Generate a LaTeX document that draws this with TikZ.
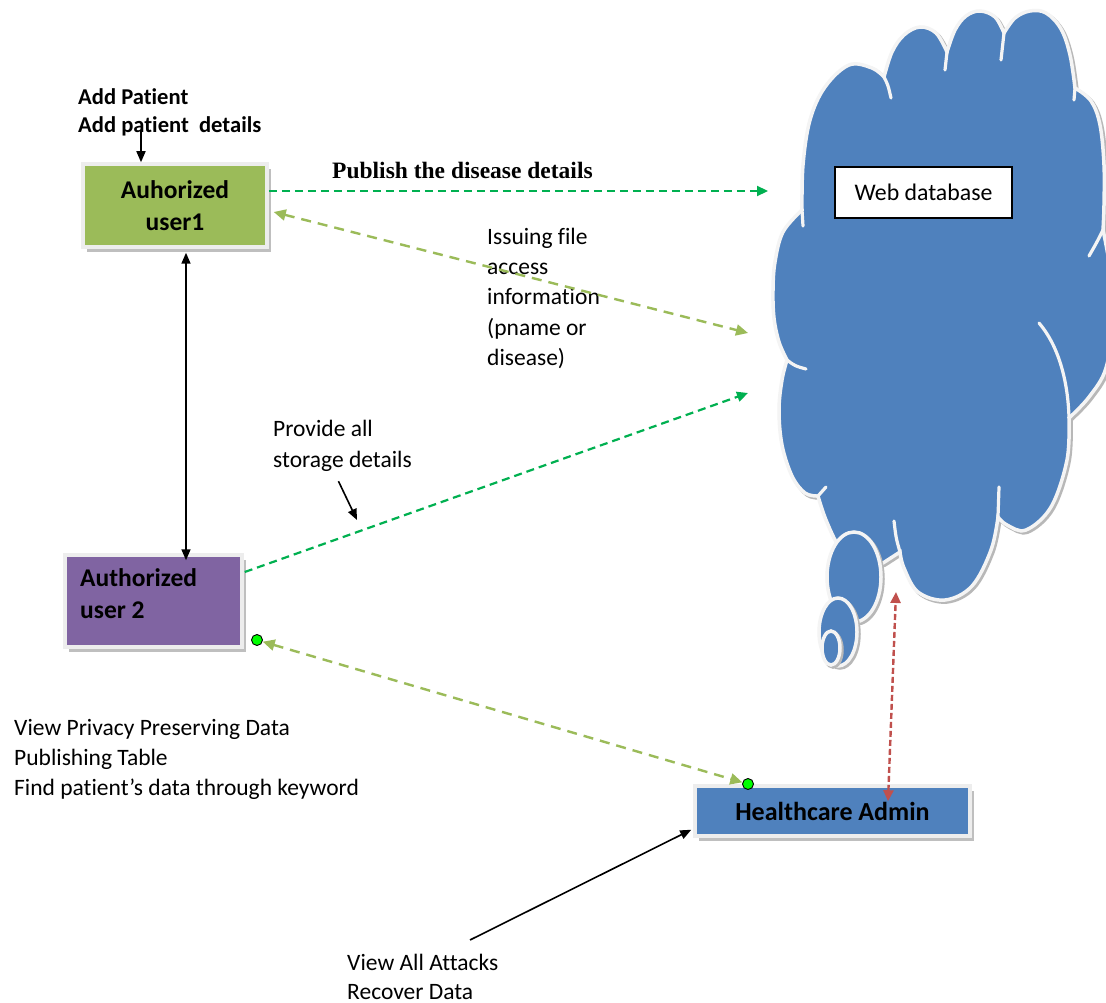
\documentclass[tikz,border=0pt]{standalone}
\usepackage{fontspec}
\setmainfont{Carlito}[Ligatures={NoCommon}]
\newfontfamily\pubfont{Liberation Serif}[Ligatures={NoCommon}]
\usetikzlibrary{arrows.meta,shadows}
\definecolor{gdash}{HTML}{00B050}
\definecolor{lgreen}{HTML}{9BBB59}
\definecolor{purp}{HTML}{8064A2}
\definecolor{cblue}{HTML}{4F81BD}
\definecolor{rdash}{HTML}{C0504D}
\definecolor{dotg}{HTML}{00FF00}
\definecolor{bevel}{HTML}{EDEDED}
\definecolor{cedge}{HTML}{F4F4F4}
\newcommand{\mycloudpath}{(787,360)
 -- plot[smooth,tension=0.6] coordinates {(787,360) (779,342) (774,318) (773,290) (775,262) (783,232) (802,210)}
 -- plot[smooth,tension=0.6] coordinates {(802,210) (803,165) (810,120) (825,87) (849,65) (872,68) (884,77)}
 -- plot[smooth,tension=0.6] coordinates {(884,77) (892,52) (904,35) (920,27) (936,33) (947,52)}
 -- plot[smooth,tension=0.6] coordinates {(947,52) (955,30) (966,16) (980,11) (995,17) (1004,33)}
 -- plot[smooth,tension=0.6] coordinates {(1004,33) (1015,18) (1030,11) (1046,13) (1061,29) (1070,55) (1075,88)}
 -- plot[smooth,tension=0.6] coordinates {(1075,88) (1091,101) (1100,125) (1104,165) (1104,205) (1103,230)}
 -- plot[smooth,tension=0.6] coordinates {(1103,230) (1110,270) (1112,320) (1106,368) (1089,397) (1069,418)}
 -- plot[smooth,tension=0.6] coordinates {(1069,418) (1067,460) (1051,507) (1026,530) (1007,525) (998,517)}
 -- plot[smooth,tension=0.6] coordinates {(998,517) (991,550) (972,586) (945,600) (918,592) (904,568) (900,552)}
 -- (883,563)
 -- plot[smooth,tension=0.6] coordinates {(883,563) (860,566) (840,548) (826,520) (818,496)}
 -- plot[smooth,tension=0.6] coordinates {(818,496) (805,493) (792,476) (782,445) (779,410) (782,380) (787,360)}
 -- cycle}
\begin{document}
\begin{tikzpicture}[x=1pt,y=-1pt,
  txt/.style={inner sep=0pt, anchor=base west, font=\fontsize{23.5}{28}\selectfont},
  addtxt/.style={inner sep=0pt, anchor=base west, font=\fontsize{22.6}{26}\selectfont\bfseries},
  boxtxt/.style={inner sep=0pt, font=\fontsize{25.5}{32}\selectfont\bfseries},
  ubox/.style={draw=bevel, line width=3.5pt, inner sep=0pt,
    drop shadow={shadow xshift=4pt, shadow yshift=-5pt, fill=black!45, opacity=0.55}},
  blk/.style={draw=black, line width=1.6pt, -{Triangle[length=11pt,width=9pt]}},
  blktwo/.style={draw=black, line width=1.6pt, {Triangle[length=11pt,width=9pt]}-{Triangle[length=11pt,width=9pt]}},
  gd/.style={draw=gdash, line width=2.2pt, dash pattern=on 8pt off 5pt, -{Triangle[length=11pt,width=10pt]}},
  lgd/.style={draw=lgreen, line width=2.4pt, dash pattern=on 10pt off 7pt,
    {Triangle[length=12pt,width=11pt]}-{Triangle[length=12pt,width=11pt]}},
  rd/.style={draw=rdash, line width=2.4pt, dash pattern=on 6pt off 3pt,
    {Triangle[length=11pt,width=10pt]}-{Triangle[length=11pt,width=10pt]}},
  gdot/.style={circle, fill=dotg, draw=black, line width=0.9pt, minimum size=11pt, inner sep=0pt},
  cloudfill/.style={fill=cblue, draw=cedge, line width=3.5pt},
  cloudshadow/.style={draw=black!28, line width=3.5pt, shift={(2,2)}},
  notch/.style={draw=cedge, line width=3.2pt, line cap=round},
]
\useasboundingbox[fill=white] (0,0) rectangle (1106,1003);

% ---- cloud ----
\begin{scope}
\clip (0,0) rectangle (1106,1003);
\draw[cloudshadow] \mycloudpath;
\filldraw[cloudfill] \mycloudpath;
\draw[notch] (802,210) -- (803,226);
\draw[notch] (884,77) .. controls (888,85) .. (891,98);
\draw[notch] (947,52) -- (945,70);
\draw[notch] (1004,33) -- (1001,60);
\draw[notch] (1075,88) -- (1074,100);
\draw[notch] (1103,230) .. controls (1097,242) .. (1089,256);
\draw[notch] (1069,418) .. controls (1068,380) and (1058,345) .. (1039,323);
\draw[notch] (787,360) .. controls (795,366) .. (806,369);
\draw[notch] (818,496) -- (826,487);
\draw[notch] (998,517) -- (999,487);
\draw[notch] (900,552) .. controls (896,538) .. (894,521);
\draw[cloudshadow] (854,577) ellipse [x radius=27, y radius=45];
\filldraw[cloudfill] (854,577) ellipse [x radius=27, y radius=45];
\draw[cloudshadow] (838,632) ellipse [x radius=19, y radius=34];
\filldraw[cloudfill] (838,632) ellipse [x radius=19, y radius=34];
\draw[cloudshadow] (831,648) ellipse [x radius=9, y radius=17];
\filldraw[cloudfill] (831,648) ellipse [x radius=9, y radius=17];
\end{scope}

\node[draw=black, line width=1.5pt, fill=white, minimum width=177pt, minimum height=51pt,
  inner sep=0pt, font=\fontsize{23.8}{28}\selectfont] (web) at (923.5,192.5) {Web database};

% ---- boxes ----
\node[ubox, fill=lgreen, minimum width=184pt, minimum height=83pt, align=center, boxtxt] (box1) at (175,205.5) {Auhorized\\user1};
\node[ubox, fill=purp, minimum width=177pt, minimum height=92pt] (box2) at (153.5,601) {};
\node[boxtxt, anchor=base west] (u2a) at (80,586) {Authorized};
\node[boxtxt, anchor=base west] (u2b) at (80,618) {user 2};
\node[ubox, fill=cblue, minimum width=275pt, minimum height=50pt, boxtxt, font=\fontsize{26}{32}\selectfont\bfseries] (box3) at (832.5,811) {Healthcare Admin};

% ---- texts ----
\node[addtxt] (ap1) at (78,105) {Add Patient};
\node[addtxt] (ap2) at (78,133) {Add patient~ details};
\node[inner sep=0pt, anchor=base west, font=\pubfont\fontsize{23.5}{28}\selectfont\bfseries] (pub) at (332,179) {Publish the disease details};
\node[txt] (is1) at (487,245) {Issuing file};
\node[txt] (is2) at (487,275) {access};
\node[txt] (is3) at (487,305) {information};
\node[txt] (is4) at (487,335) {(pname or};
\node[txt] (is5) at (487,365) {disease)};
\node[txt] (pa) at (273,436) {Provide all};
\node[txt] (sdet) at (273,467) {storage details};
\node[txt] (vp1) at (14,735) {View Privacy Preserving Data};
\node[txt] (vp2) at (14,765) {Publishing Table};
\node[txt] (vp3) at (14,795) {Find patient’s data through keyword};
\node[txt] (va1) at (347,970) {View All Attacks};
\node[txt] (va2) at (347,999) {Recover Data};

% ---- free ends ----
\coordinate (apa) at (141,130);
\coordinate (cl1) at (768,191);
\coordinate (cl2) at (748,333);
\coordinate (cl3) at (748,393);
\coordinate (cl4) at (896,592);
\coordinate (sa2) at (357,520);
\coordinate (vaa) at (470,940);

% ---- connectors ----
\draw[blk] (apa) -- (apa |- box1.north);
\draw[blktwo] ([xshift=11pt,yshift=-4pt]box1.south) -- ([xshift=32.5pt,yshift=-7pt]box2.north);
\draw[gd] ([yshift=14.5pt]box1.east) -- (cl1);
\draw[lgd] ([xshift=5pt,yshift=-6.5pt]box1.east) -- (cl2);
\draw[gd] ([xshift=1pt,yshift=29pt]box2.east) -- (cl3);
\draw[blk] ([xshift=-4pt,yshift=-10pt]sdet.south) -- (sa2);
\draw[rd] ([xshift=55.5pt,yshift=-17pt]box3.north) -- (cl4);
\draw[blk] (vaa) -- ([xshift=-2pt,yshift=8pt]box3.south west);

\node[gdot] (d1) at (257,640) {};
\node[gdot] (d2) at (748,784) {};
\draw[lgd] (d1) -- (d2);
\end{tikzpicture}
\end{document}
